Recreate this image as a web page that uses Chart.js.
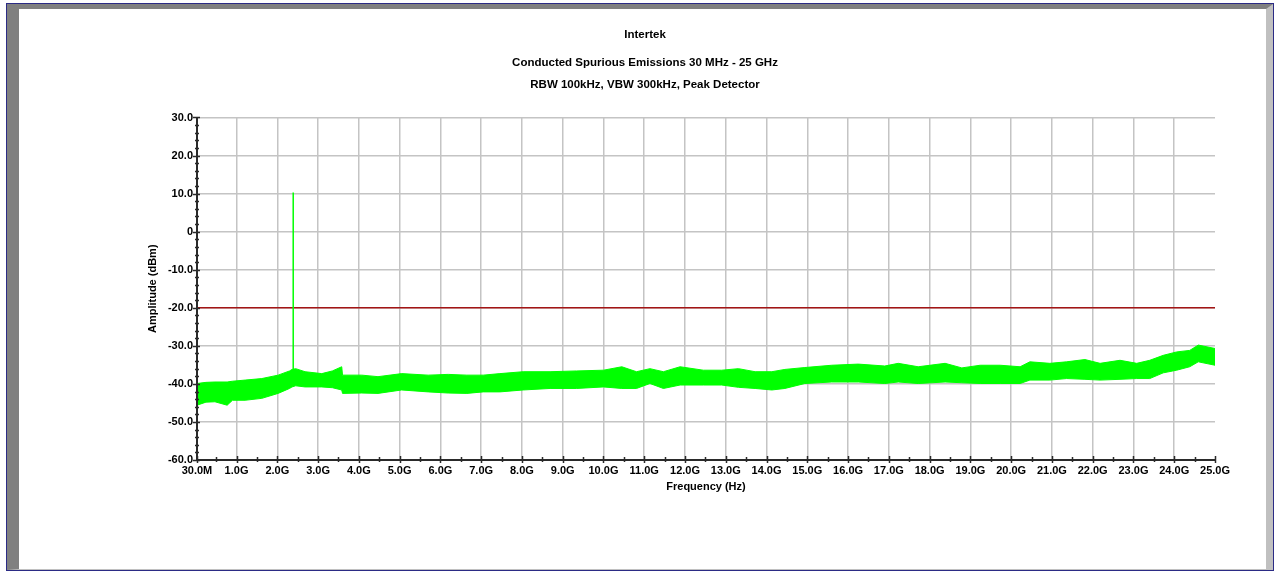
<!DOCTYPE html>
<html>
<head>
<meta charset="utf-8">
<script src="https://cdn.jsdelivr.net/npm/chart.js@4.4.1/dist/chart.umd.min.js"></script>
<style>
  html, body { margin: 0; padding: 0; background: #fff; overflow: hidden; }
  #frame { position: absolute; left: 6px; top: 3px; width: 1268px; height: 568px; box-sizing: border-box; border: 1px solid #2b2b85; }
  #bevel { position: absolute; left: 0; top: 0; right: 0; bottom: 0; box-sizing: border-box; border-style: solid; border-width: 5px 7px 1px 12px; border-color: #808080 #c0c0c0 #c0c0c0 #808080; background: #fff; }
  #chart { position: absolute; left: 0; top: 0; }
</style>
</head>
<body>
<div id="frame"><div id="bevel"></div></div>
<canvas id="chart" width="1275" height="571"></canvas>
<script>
// Trace envelope (frequency in GHz, amplitude in dBm)
const freqGHz = [0.03, 0.25, 0.47, 0.77, 0.9, 1.21, 1.62, 2.02, 2.3, 2.36, 2.45, 2.68, 3.09, 3.35, 3.58, 3.6,
  4.07, 4.47, 5.05, 5.7, 6.19, 6.65, 7.05, 7.46, 8.03, 8.69, 9.34, 10.0, 10.45, 10.81, 11.14, 11.47, 11.88,
  12.45, 12.9, 13.31, 13.72, 14.13, 14.45, 14.94, 15.6, 16.25, 16.9, 17.23, 17.72, 18.38, 18.79, 19.24, 19.73,
  20.22, 20.46, 20.95, 21.36, 21.81, 22.18, 22.67, 23.08, 23.4, 23.73, 24.06, 24.38, 24.59, 25.0];
const upperDbm = [-39.9, -39.6, -39.5, -39.5, -39.3, -39.0, -38.6, -37.7, -36.6, -36.2, -36.0, -36.8, -37.3, -36.6, -35.5, -37.7,
  -37.7, -38.1, -37.3, -37.7, -37.5, -37.7, -37.7, -37.3, -36.8, -36.8, -36.6, -36.4, -35.5, -36.8, -36.0, -36.8, -35.5,
  -36.4, -36.4, -36.0, -36.8, -36.8, -36.2, -35.7, -35.1, -34.8, -35.3, -34.6, -35.5, -34.6, -35.8, -35.1, -35.1,
  -35.5, -34.2, -34.6, -34.2, -33.6, -34.6, -33.8, -34.6, -33.8, -32.5, -31.6, -31.2, -29.8, -30.7];
const lowerDbm = [-45.6, -44.8, -44.7, -45.6, -44.3, -44.3, -43.8, -42.5, -41.2, -40.8, -40.5, -40.8, -40.8, -41.0, -41.6, -42.5,
  -42.4, -42.5, -41.6, -42.1, -42.4, -42.5, -42.1, -42.1, -41.6, -41.2, -41.2, -40.8, -41.2, -41.2, -39.9, -41.2, -40.3,
  -40.3, -40.3, -40.9, -41.2, -41.6, -41.2, -39.9, -39.5, -39.5, -39.9, -39.5, -39.9, -39.5, -39.7, -39.9, -39.9,
  -39.9, -39.0, -39.0, -38.6, -38.8, -39.0, -38.8, -38.6, -38.6, -37.1, -36.4, -35.5, -34.2, -35.1];

// Carrier spike at about 2.39 GHz
const spikeFreq = [2.39, 2.39];
const spikeDbm = [-37.0, 10.3];

// Limit line
const limitFreq = [0.03, 25.0];
const limitDbm = [-20.0, -20.0];

// Axis ticks
const xTickValues = [0.03, 1, 2, 3, 4, 5, 6, 7, 8, 9, 10, 11, 12, 13, 14, 15, 16, 17, 18, 19, 20, 21, 22, 23, 24, 25];
const xTickLabels = ['30.0M', '1.0G', '2.0G', '3.0G', '4.0G', '5.0G', '6.0G', '7.0G', '8.0G', '9.0G', '10.0G', '11.0G', '12.0G',
  '13.0G', '14.0G', '15.0G', '16.0G', '17.0G', '18.0G', '19.0G', '20.0G', '21.0G', '22.0G', '23.0G', '24.0G', '25.0G'];
const yTickValues = [-60, -50, -40, -30, -20, -10, 0, 10, 20, 30];
const yTickLabels = ['-60.0', '-50.0', '-40.0', '-30.0', '-20.0', '-10.0', '0', '10.0', '20.0', '30.0'];

const toPoints = (xs, ys) => xs.map((x, i) => ({ x: x, y: ys[i] }));

const FONT = "'Liberation Sans', Arial, sans-serif";
const GREEN = '#00ff00';

// Draw axis lines plus major/minor tick marks on top of the data
const axisMarks = {
  id: 'axisMarks',
  afterDatasetsDraw(chart) {
    const { ctx, chartArea: a, scales: { x, y } } = chart;
    ctx.save();
    ctx.strokeStyle = '#2a2a2a';
    ctx.lineWidth = 2;
    ctx.beginPath();
    ctx.moveTo(a.left, a.top);
    ctx.lineTo(a.left, a.bottom);
    ctx.lineTo(a.right, a.bottom);
    ctx.stroke();

    ctx.lineWidth = 1.5;
    ctx.beginPath();
    yTickValues.forEach(v => {
      const py = Math.round(y.getPixelForValue(v)) + 0.5;
      ctx.moveTo(a.left - 4, py);
      ctx.lineTo(a.left + 3, py);
    });
    for (let v = -58; v < 30; v += 2) {
      if (v % 10 === 0) continue;
      const py = Math.round(y.getPixelForValue(v)) + 0.5;
      ctx.moveTo(a.left - 2, py);
      ctx.lineTo(a.left + 2, py);
    }
    xTickValues.forEach(v => {
      const px = Math.round(x.getPixelForValue(v)) + 0.5;
      ctx.moveTo(px, a.bottom - 4);
      ctx.lineTo(px, a.bottom + 3);
    });
    for (let v = 0.5; v < 25; v += 1) {
      const px = Math.round(x.getPixelForValue(v)) + 0.5;
      ctx.moveTo(px, a.bottom - 3);
      ctx.lineTo(px, a.bottom + 2);
    }
    ctx.stroke();
    ctx.restore();
  }
};

new Chart(document.getElementById('chart'), {
  type: 'line',
  data: {
    datasets: [
      { data: toPoints(spikeFreq, spikeDbm), borderColor: GREEN, borderWidth: 1.5, fill: false },
      { data: toPoints(limitFreq, limitDbm), borderColor: '#a31515', borderWidth: 1.5, fill: false },
      { data: toPoints(freqGHz, upperDbm), borderColor: GREEN, backgroundColor: GREEN, borderWidth: 1, fill: '+1' },
      { data: toPoints(freqGHz, lowerDbm), borderColor: GREEN, borderWidth: 1, fill: false }
    ]
  },
  options: {
    responsive: false,
    animation: false,
    devicePixelRatio: 1,
    layout: { padding: { left: 75, right: 60, top: 0, bottom: 0 } },
    elements: { point: { radius: 0 }, line: { tension: 0 } },
    plugins: {
      legend: { display: false },
      tooltip: { enabled: false },
      title: {
        display: true,
        text: 'Intertek',
        color: '#000',
        font: { family: FONT, size: 11.5, weight: 'bold', lineHeight: 1.2 },
        padding: { top: 28, bottom: 10 }
      },
      subtitle: {
        display: true,
        text: ['Conducted Spurious Emissions 30 MHz - 25 GHz', 'RBW 100kHz, VBW 300kHz, Peak Detector'],
        color: '#000',
        font: { family: FONT, size: 11.5, weight: 'bold', lineHeight: 1.9 },
        padding: { top: 0, bottom: 22 }
      }
    },
    scales: {
      x: {
        type: 'linear',
        min: 0.03,
        max: 25,
        afterBuildTicks: s => { s.ticks = xTickValues.map(v => ({ value: v })); },
        afterFit: s => { s.height = 111; },
        ticks: {
          autoSkip: false,
          maxRotation: 0,
          padding: 4,
          color: '#000',
          font: { family: FONT, size: 11, weight: 'bold' },
          callback: (v, i) => xTickLabels[i]
        },
        grid: {
          drawTicks: false,
          lineWidth: 1.5,
          color: c => (c.index === 0 || c.index === xTickValues.length - 1) ? 'rgba(0,0,0,0)' : '#c4c4c4'
        },
        border: { display: false },
        title: {
          display: true,
          text: 'Frequency (Hz)',
          color: '#000',
          font: { family: FONT, size: 11, weight: 'bold' },
          padding: { top: 0, bottom: 77 }
        }
      },
      y: {
        min: -60,
        max: 30,
        afterBuildTicks: s => { s.ticks = yTickValues.map(v => ({ value: v })); },
        afterFit: s => { s.width = 122; },
        ticks: {
          padding: 4,
          color: '#000',
          font: { family: FONT, size: 11, weight: 'bold' },
          callback: (v, i) => yTickLabels[i]
        },
        grid: {
          drawTicks: false,
          lineWidth: 1.5,
          color: c => c.index === 0 ? 'rgba(0,0,0,0)' : '#c4c4c4'
        },
        border: { display: false },
        title: {
          display: true,
          text: 'Amplitude (dBm)',
          color: '#000',
          font: { family: FONT, size: 11, weight: 'bold' },
          padding: { top: 71, bottom: 0 }
        }
      }
    }
  },
  plugins: [axisMarks]
});
</script>
</body>
</html>
